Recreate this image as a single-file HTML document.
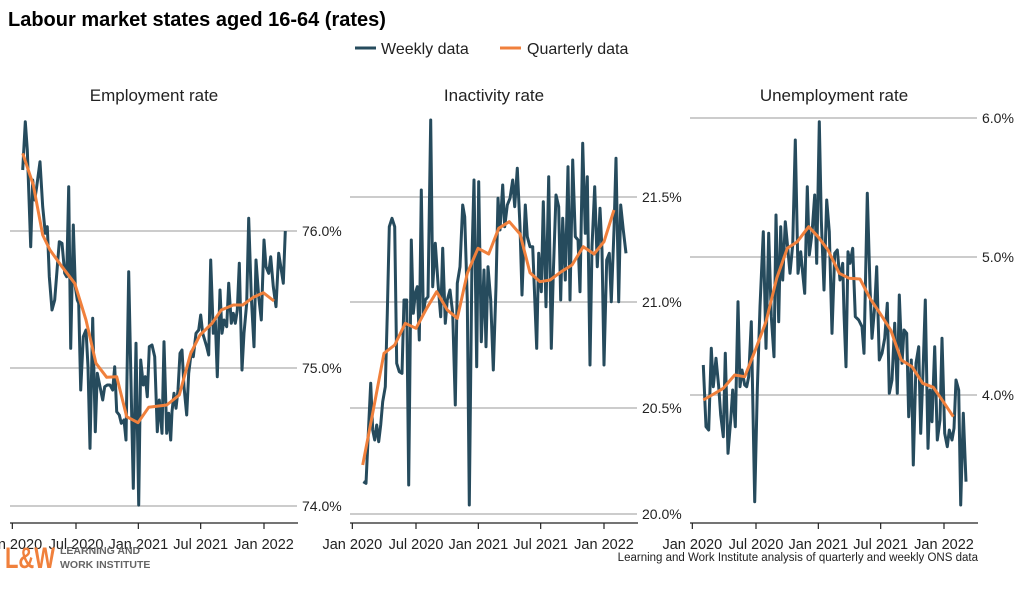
<!DOCTYPE html>
<html><head><meta charset="utf-8"><style>
body{margin:0;background:#fff;width:1024px;height:585px;overflow:hidden}
svg text{font-family:"Liberation Sans",Arial,sans-serif}
</style></head><body>
<svg id="s" width="1024" height="585" xmlns="http://www.w3.org/2000/svg">
<rect width="1024" height="585" fill="#fff"/>
<text x="8" y="26" font-size="20" font-weight="bold" fill="#000">Labour market states aged 16-64 (rates)</text>
<line x1="355" y1="48" x2="376" y2="48" stroke="#264b5d" stroke-width="3"/>
<text x="381" y="54" font-size="16" fill="#222">Weekly data</text>
<line x1="500" y1="48" x2="521" y2="48" stroke="#f0803c" stroke-width="3"/>
<text x="527" y="54" font-size="16" fill="#222">Quarterly data</text>
<text x="154" y="101" font-size="17" text-anchor="middle" fill="#222">Employment rate</text>
<text x="494" y="101" font-size="17" text-anchor="middle" fill="#222">Inactivity rate</text>
<text x="834" y="101" font-size="17" text-anchor="middle" fill="#222">Unemployment rate</text>
<g stroke="#cccccc" stroke-width="2">
<line x1="10" x2="297" y1="231" y2="231"/><line x1="10" x2="297" y1="368" y2="368"/><line x1="10" x2="297" y1="506" y2="506"/>
<line x1="350" x2="637" y1="197" y2="197"/><line x1="350" x2="637" y1="302" y2="302"/><line x1="350" x2="637" y1="408" y2="408"/><line x1="350" x2="637" y1="514" y2="514"/>
<line x1="690" x2="977" y1="118" y2="118"/><line x1="690" x2="977" y1="257" y2="257"/><line x1="690" x2="977" y1="395" y2="395"/>
</g>
<g font-size="14" fill="#222">
<text x="302" y="236">76.0%</text><text x="302" y="373">75.0%</text><text x="302" y="511">74.0%</text>
<text x="642" y="202">21.5%</text><text x="642" y="307">21.0%</text><text x="642" y="413">20.5%</text><text x="642" y="519">20.0%</text>
<text x="982" y="123">6.0%</text><text x="982" y="262">5.0%</text><text x="982" y="400">4.0%</text>
</g>
<g stroke="#222" stroke-width="1.2">
<line x1="10" x2="298" y1="523" y2="523"/><line x1="350" x2="638" y1="523" y2="523"/><line x1="690" x2="978" y1="523" y2="523"/>
</g>
<g id="ticks" stroke="#222" stroke-width="1.2"></g>
<g id="tl" font-size="14.5" fill="#222" text-anchor="middle"></g>
<g id="series"></g>
<text x="5" y="568" font-size="30" font-weight="bold" fill="#f0803c" textLength="50" lengthAdjust="spacingAndGlyphs">L&amp;W</text>
<text x="60" y="554" font-size="10.5" font-weight="bold" fill="#666">LEARNING AND</text>
<text x="60" y="568" font-size="10.5" font-weight="bold" fill="#666">WORK INSTITUTE</text>
<text x="978" y="561" font-size="11.5" fill="#222" text-anchor="end">Learning and Work Institute analysis of quarterly and weekly ONS data</text>
</svg>
<script>
var NS="http://www.w3.org/2000/svg";
var offs=[0,340,680];
var tz=[37,228,415,602,792];
var labs=["Jan 2020","Jul 2020","Jan 2021","Jul 2021","Jan 2022"];
var T=document.getElementById("ticks"),L=document.getElementById("tl");
offs.forEach(function(o){tz.forEach(function(z,i){var x=o+z/3;
var l=document.createElementNS(NS,"line");l.setAttribute("x1",x);l.setAttribute("x2",x);l.setAttribute("y1",523);l.setAttribute("y2",529);T.appendChild(l);
var t=document.createElementNS(NS,"text");t.setAttribute("x",x);t.setAttribute("y",549);t.textContent=labs[i];L.appendChild(t);});});
var W=[
[68,210,76,65,82,150,92,440,98,240,104,300,110,260,120,185,128,320,136,400,142,380,148,530,156,630,164,600,172,500,178,425,186,430,194,520,200,530,206,260,212,745,220,375,226,560,232,600,236,610,242,870,250,710,258,690,264,800,270,1045,278,655,286,995,292,820,300,860,308,900,314,860,322,855,330,855,338,870,344,800,350,935,358,945,364,970,372,960,378,1020,386,515,394,890,400,1165,408,730,416,1215,422,780,430,855,436,830,442,890,448,740,456,735,464,770,472,995,478,900,486,1000,492,725,500,1000,506,940,512,1020,516,935,522,880,528,925,534,870,540,760,546,750,552,860,560,945,566,820,574,755,580,770,588,700,596,690,602,645,608,700,614,720,620,740,626,765,632,480,640,700,646,660,652,830,660,570,666,700,672,660,680,680,686,550,694,670,700,640,706,670,712,630,718,490,726,810,732,700,740,610,746,355,754,590,762,740,768,480,776,590,784,660,792,420,798,500,806,520,812,470,820,560,828,620,836,460,844,510,850,550,856,393],
[70,1145,78,1150,84,1020,92,850,98,990,104,1020,110,975,116,1025,122,975,128,905,136,860,142,640,148,380,156,355,164,380,170,790,178,815,186,820,192,600,200,600,206,1155,214,420,220,640,226,580,232,560,238,720,244,270,250,640,256,600,264,590,272,60,278,560,286,430,294,550,302,650,308,445,316,670,322,600,330,570,338,640,346,915,352,550,360,500,368,315,374,350,382,600,388,1215,396,470,402,240,410,800,416,245,424,725,432,510,438,740,444,500,452,600,460,810,468,560,474,295,480,390,488,255,494,380,502,315,510,295,518,240,524,320,532,205,540,380,546,585,556,315,562,410,570,440,578,440,590,745,596,460,604,575,610,305,618,620,626,230,634,745,640,520,648,285,656,320,662,600,668,355,676,540,684,200,690,600,698,180,706,410,714,420,720,575,728,130,736,400,742,230,750,795,756,440,764,260,772,500,780,325,786,450,792,795,800,480,808,460,814,605,822,390,828,175,836,605,842,315,850,390,858,460],
[70,795,78,980,86,990,94,745,100,860,108,775,116,860,122,945,130,1010,136,760,144,1060,152,960,158,870,166,980,174,605,180,860,186,810,194,855,200,860,206,830,214,665,224,1205,232,870,240,620,250,395,258,745,266,400,274,650,282,770,288,345,296,665,302,380,308,540,316,365,322,430,330,520,338,435,346,120,354,520,362,455,368,520,374,580,382,260,388,465,396,400,404,285,410,490,418,65,424,360,432,570,440,300,448,395,456,700,464,460,472,450,480,540,488,490,492,640,498,800,504,455,510,490,518,445,526,650,536,660,546,680,552,760,562,280,570,560,576,715,584,620,590,500,598,780,606,760,614,715,622,610,628,880,636,840,644,670,652,880,658,585,666,790,672,690,680,700,686,950,694,780,700,1095,708,790,716,740,722,1000,730,790,736,600,744,1045,750,870,756,965,764,740,772,1020,780,960,786,715,794,1000,802,1040,808,990,816,1020,822,985,828,840,836,870,842,1215,850,940,858,1145]];
var Q=[
[68,160,100,255,128,405,150,450,186,500,224,550,258,660,288,790,320,832,350,830,380,950,414,968,446,922,500,915,538,885,572,760,600,705,636,670,664,630,700,615,728,615,760,592,790,578,822,603],
[68,1095,100,930,132,760,164,735,196,670,228,685,260,625,290,575,322,630,352,655,382,520,414,445,446,462,476,385,508,365,540,402,570,518,600,545,630,540,664,515,696,495,730,440,762,462,792,425,822,330],
[70,900,96,885,130,865,164,825,194,830,228,745,258,665,290,535,322,445,352,425,386,380,414,410,444,450,478,520,508,535,540,537,570,595,600,640,632,690,664,780,696,800,728,850,760,862,792,908,820,950]];
var S=document.getElementById("series");
function pl(a,o,c){var p=[];for(var i=0;i<a.length;i+=2)p.push((o+a[i]/3).toFixed(1)+","+(100+a[i+1]/3).toFixed(1));
var e=document.createElementNS(NS,"polyline");e.setAttribute("points",p.join(" "));e.setAttribute("fill","none");e.setAttribute("stroke",c);e.setAttribute("stroke-width","3");e.setAttribute("stroke-linejoin","round");S.appendChild(e);}
for(var k=0;k<3;k++){pl(W[k],offs[k],"#264b5d");}
for(var k=0;k<3;k++){pl(Q[k],offs[k],"#f0803c");}
</script>
</body></html>
